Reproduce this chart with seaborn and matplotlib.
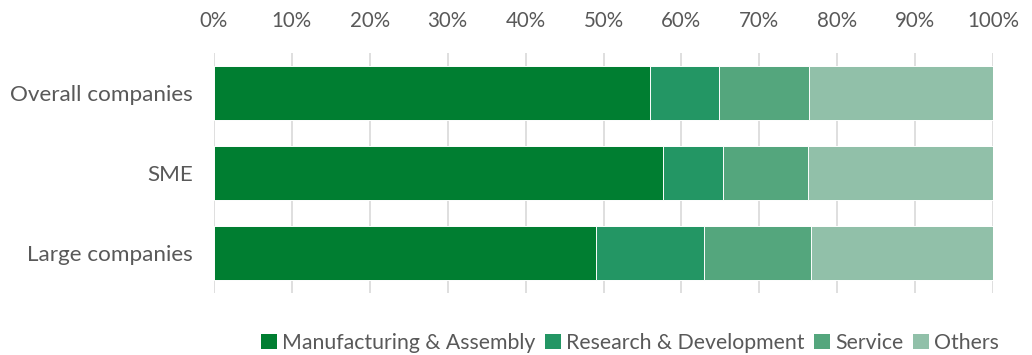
import matplotlib
matplotlib.use("Agg")
import matplotlib.pyplot as plt
from matplotlib.patches import Patch
import seaborn as sns
import pandas as pd
import numpy as np

# Share of activities by company type (percent)
categories = ["Overall companies", "SME", "Large companies"]
series_names = ["Manufacturing & Assembly", "Research & Development", "Service", "Others"]
manufacturing = [56.0, 57.6, 49.0]
research = [8.8, 7.8, 13.9]
service = [11.6, 10.9, 13.7]
others = [23.6, 23.7, 23.4]
tick_values = [0, 10, 20, 30, 40, 50, 60, 70, 80, 90, 100]
tick_labels = [f"{v}%" for v in tick_values]

colors = ["#007E31", "#239664", "#54A67D", "#91C0A9"]
text_color = "#595959"

sns.set_theme(style="white")
plt.rcParams["font.family"] = ["Lato", "DejaVu Sans"]

series = [manufacturing, research, service, others]
cum = np.cumsum(np.array(series), axis=0)

fig = plt.figure(figsize=(10.32, 3.55), dpi=100)
ax = fig.add_axes([214 / 1032, 1 - 293 / 355, (993 - 214) / 1032, 240 / 355])

# Stacked bars: draw cumulative totals from the outermost layer inward
for i in range(len(series) - 1, -1, -1):
    df = pd.DataFrame({"category": categories, "value": cum[i]})
    sns.barplot(data=df, x="value", y="category", orient="h", color=colors[i],
                width=0.667, edgecolor="white", linewidth=0.7, saturation=1,
                ax=ax, zorder=3)

ax.set_xlim(0, 100)
ax.set_ylim(2.5, -0.5)
ax.set_xticks(tick_values)
ax.set_xticklabels(tick_labels)
ax.xaxis.tick_top()
ax.tick_params(axis="x", length=0, pad=16, labelsize=14.8, labelcolor=text_color)
ax.tick_params(axis="y", length=0, pad=15, labelsize=16.2, labelcolor=text_color)
ax.set_xlabel("")
ax.set_ylabel("")
ax.grid(axis="x", color="#D9D9D9", linewidth=1.2, zorder=0)
ax.grid(axis="y", visible=False)
for s in ax.spines.values():
    s.set_visible(False)

handles = [Patch(facecolor=c, edgecolor="none") for c in colors]
fig.legend(handles, series_names, loc="center", bbox_to_anchor=(630 / 1032, 1 - 343 / 355),
           ncol=4, frameon=False, fontsize=15.3, labelcolor=text_color,
           handlelength=0.75, handleheight=0.75, handletextpad=0.25, columnspacing=0.45,
           borderpad=0)

fig.savefig("out.png", dpi=100, facecolor="white")
